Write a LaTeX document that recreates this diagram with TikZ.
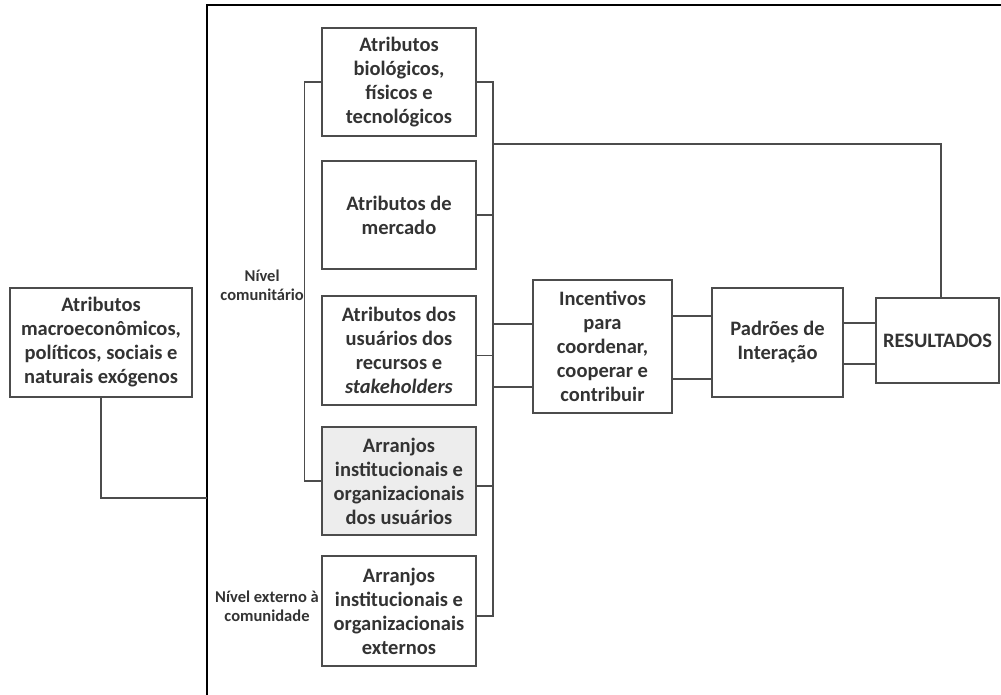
\documentclass[tikz,border=0pt]{standalone}
\usepackage{fontspec}
\setmainfont{Carlito}
\begin{document}
\begin{tikzpicture}[x=1pt,y=-1pt,
  bloco/.style={draw=black!70,line width=1.5pt,fill=white,align=center,inner sep=2pt,text=black!80,font=\fontsize{20.5}{24}\selectfont\bfseries},
  rotulo/.style={align=center,inner sep=0pt,text=black!80,font=\fontsize{16.5}{19}\selectfont\bfseries},
  liga/.style={draw=black!70,line width=1.5pt}]
\useasboundingbox (0,0) rectangle (1001,695);
% moldura
\draw[line width=2.4pt] (207,695) -- (207,5) -- (1001,5);
% caixas
\node[bloco,minimum width=182,minimum height=109] (macro) at (101,342.5) {Atributos\\macroeconômicos,\\políticos, sociais e\\naturais exógenos};
\node[bloco,minimum width=154,minimum height=108] (bio) at (399,82) {Atributos\\biológicos,\\físicos e\\tecnológicos};
\node[bloco,minimum width=154,minimum height=108] (mer) at (399,215) {Atributos de\\mercado};
\node[bloco,minimum width=154,minimum height=109] (usu) at (399,350.5) {Atributos dos\\usuários dos\\recursos e\\\textit{stakeholders}};
\node[bloco,fill=black!7,minimum width=154,minimum height=108] (arr) at (399,481) {Arranjos\\institucionais e\\organizacionais\\dos usuários};
\node[bloco,minimum width=154,minimum height=110] (ext) at (399,611) {Arranjos\\institucionais e\\organizacionais\\externos};
\node[bloco,minimum width=139,minimum height=133] (inc) at (602.5,346.5) {Incentivos\\para\\coordenar,\\cooperar e\\contribuir};
\node[bloco,minimum width=131,minimum height=109] (pad) at (777.5,342.5) {Padrões de\\Interação};
\node[bloco,minimum width=123,minimum height=85] (res) at (937.5,340.5) {RESULTADOS};
% rotulos
\node[rotulo,anchor=east] (com) at (304,285) {Nível\\comunitário};
\node[rotulo] (extn) at (267,606) {Nível externo à\\comunidade};
% ligacoes
\coordinate (bus) at (493,82);
\coordinate (topo) at (493,144);
\coordinate (quina) at (207,498);
\draw[liga] (bio.west) -- ++(-17,0) |- (arr.west);
\draw[liga] (bio.east) -- (bus) |- ([yshift=-5pt]ext.east);
\draw[liga] (mer.east) -- (mer.east -| bus);
\foreach \n in {usu,arr}
  \draw[liga] ([yshift=-5pt]\n.east) -- ([yshift=-5pt]\n.east -| bus);
\draw[liga] (topo) -| ([xshift=3.5pt]res.north);
\foreach \d in {22.5,-40.5}
  \draw[liga] ([yshift=\d pt]inc.west) -- ([yshift=\d pt]inc.west -| bus);
\foreach \d in {26.5,-36.5}
  \draw[liga] ([yshift=\d pt]pad.west) -- ([yshift=\d pt]pad.west -| inc.east);
\foreach \d in {17.5,-23.5}
  \draw[liga] ([yshift=\d pt]res.west) -- ([yshift=\d pt]res.west -| pad.east);
\draw[liga] (macro.south) |- (quina);
\end{tikzpicture}
\end{document}
